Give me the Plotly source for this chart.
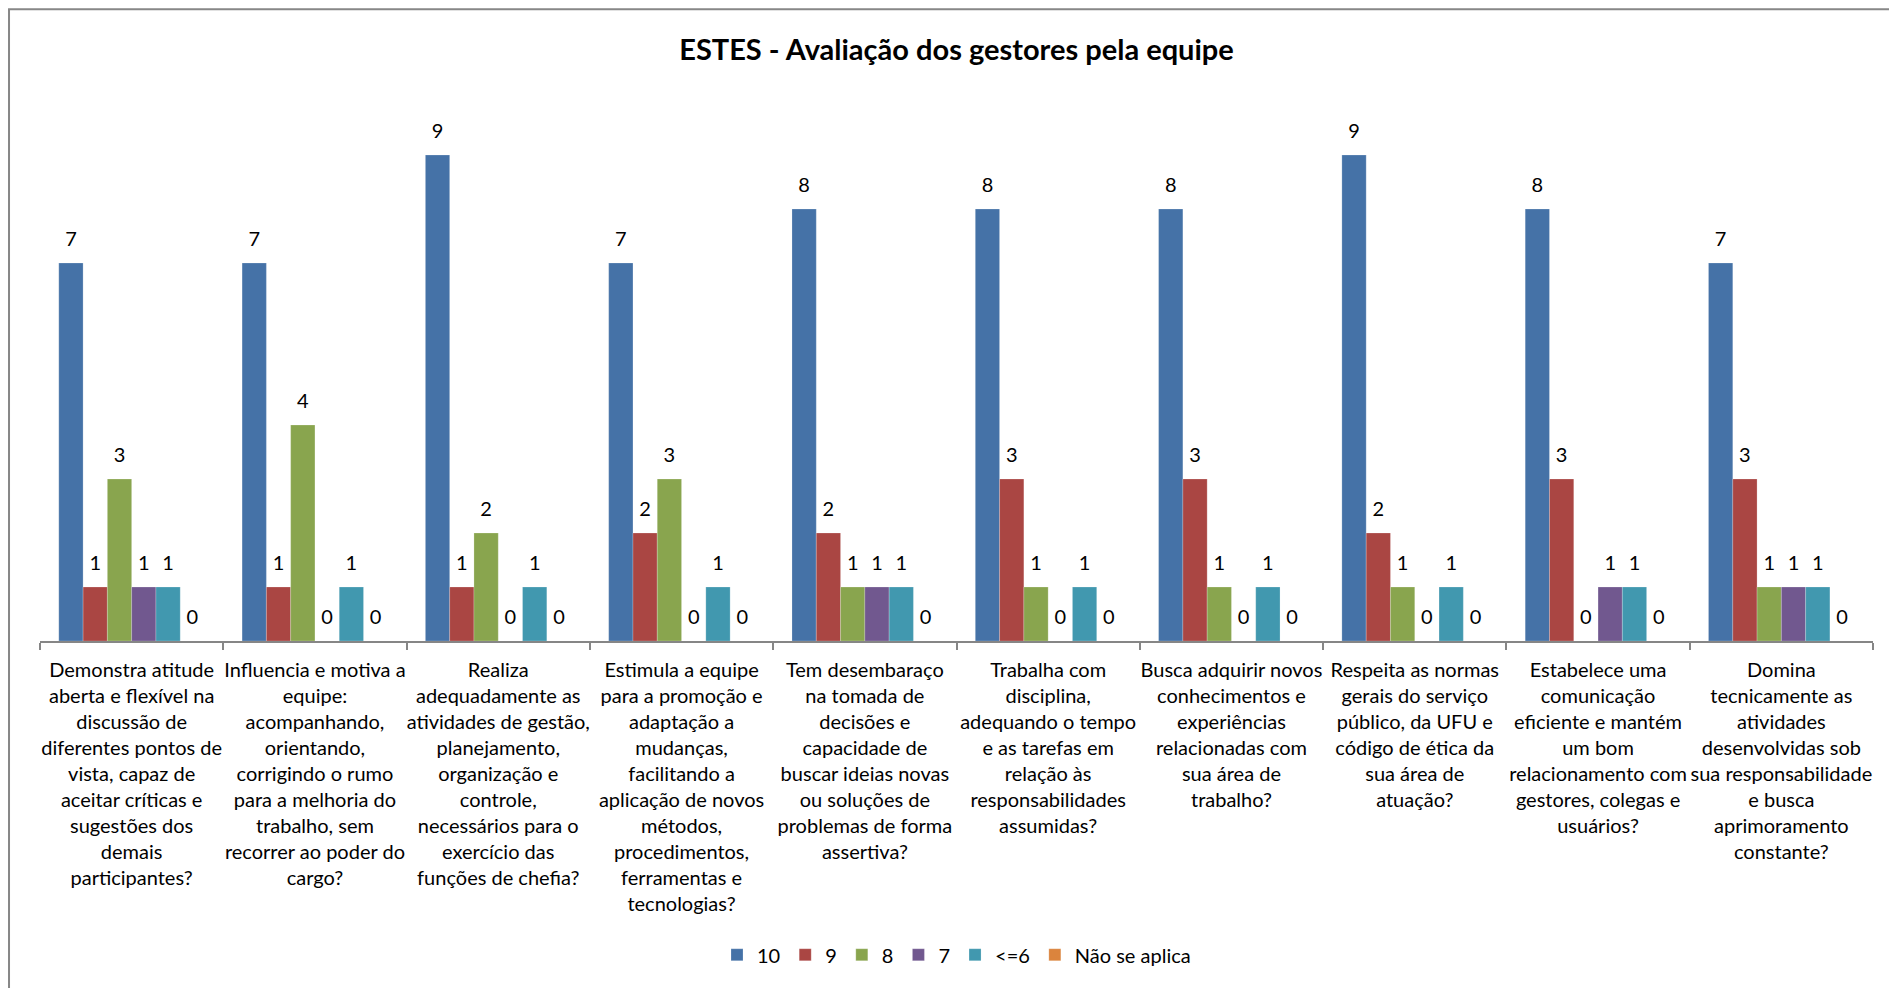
import plotly.graph_objects as go

categories = [
    "Demonstra atitude<br>aberta e flexível na<br>discussão de<br>diferentes pontos de<br>vista, capaz de<br>aceitar críticas e<br>sugestões dos<br>demais<br>participantes?",
    "Influencia e motiva a<br>equipe:<br>acompanhando,<br>orientando,<br>corrigindo o rumo<br>para a melhoria do<br>trabalho, sem<br>recorrer ao poder do<br>cargo?",
    "Realiza<br>adequadamente as<br>atividades de gestão,<br>planejamento,<br>organização e<br>controle,<br>necessários para o<br>exercício das<br>funções de chefia?",
    "Estimula a equipe<br>para a promoção e<br>adaptação a<br>mudanças,<br>facilitando a<br>aplicação de novos<br>métodos,<br>procedimentos,<br>ferramentas e<br>tecnologias?",
    "Tem desembaraço<br>na tomada de<br>decisões e<br>capacidade de<br>buscar ideias novas<br>ou soluções de<br>problemas de forma<br>assertiva?",
    "Trabalha com<br>disciplina,<br>adequando o tempo<br>e as tarefas em<br>relação às<br>responsabilidades<br>assumidas?",
    "Busca adquirir novos<br>conhecimentos e<br>experiências<br>relacionadas com<br>sua área de<br>trabalho?",
    "Respeita as normas<br>gerais do serviço<br>público, da UFU e<br>código de ética da<br>sua área de<br>atuação?",
    "Estabelece uma<br>comunicação<br>eficiente e mantém<br>um bom<br>relacionamento com<br>gestores, colegas e<br>usuários?",
    "Domina<br>tecnicamente as<br>atividades<br>desenvolvidas sob<br>sua responsabilidade<br>e busca<br>aprimoramento<br>constante?",
]

series_names = ["10", "9", "8", "7", "<=6", "Não se aplica"]
values_10 = [7, 7, 9, 7, 8, 8, 8, 9, 8, 7]
values_9 = [1, 1, 1, 2, 2, 3, 3, 2, 3, 3]
values_8 = [3, 4, 2, 3, 1, 1, 1, 1, 0, 1]
values_7 = [1, 0, 0, 0, 1, 0, 0, 0, 1, 1]
values_le6 = [1, 1, 1, 1, 1, 1, 1, 1, 1, 1]
values_na = [0, 0, 0, 0, 0, 0, 0, 0, 0, 0]
series_values = [values_10, values_9, values_8, values_7, values_le6, values_na]
colors = ["#4572A7", "#AA4643", "#89A54E", "#71588F", "#4198AF", "#DB843D"]

FONT = "Lato"

fig = go.Figure()
for name, vals, col in zip(series_names, series_values, colors):
    fig.add_trace(go.Bar(
        x=categories, y=vals, name=name,
        marker=dict(color=col, line=dict(color="rgba(255,255,255,0.35)", width=0.6)),
        offsetgroup=name, hoverinfo="skip",
    ))
for name, vals in zip(series_names, series_values):
    fig.add_trace(go.Scatter(
        x=categories, y=vals, mode="markers+text", text=[str(v) for v in vals],
        textposition="top center", orientation="v",
        textfont=dict(family=FONT, size=20, color="#000000"),
        marker=dict(size=17, color="rgba(0,0,0,0)"),
        offsetgroup=name, showlegend=False, hoverinfo="skip", cliponaxis=False,
    ))

fig.update_layout(
    width=1897, height=988,
    paper_bgcolor="white", plot_bgcolor="white",
    barmode="group", bargap=0.205, bargroupgap=0,
    scattermode="group", scattergap=0.205,
    margin=dict(l=32, r=32, t=93, b=355),
    font=dict(family=FONT, size=20, color="#000000"),
    title=dict(text="<b>ESTES - Avaliação dos gestores pela equipe</b>",
               x=0.5, xref="paper", xanchor="center",
               y=1 - 42 / 988, yanchor="middle",
               font=dict(family=FONT, size=29, color="#000000")),
    xaxis=dict(
        type="category", categoryorder="array", categoryarray=categories,
        range=[-0.5, len(categories) - 0.5],
        showline=True, linecolor="#868686", linewidth=1.5,
        ticks="outside", tickson="boundaries", ticklen=7, tickcolor="#868686", tickwidth=1.5,
        tickangle=0, tickfont=dict(family=FONT, size=20, color="#000000"),
        ticklabelstandoff=10,
        showgrid=False, zeroline=False,
    ),
    yaxis=dict(range=[0, 10], showgrid=False, zeroline=False, showticklabels=False,
               showline=False, ticks=""),
    legend=dict(orientation="h", x=0.5, xanchor="center", y=-0.581, yanchor="middle",
                font=dict(family=FONT, size=20, color="#000000"),
                itemwidth=30, traceorder="normal"),
    shapes=[dict(type="rect", xref="paper", yref="paper",
                 x0=-0.0169, x1=1.05, y0=-0.8, y1=1.170,
                 line=dict(color="#878787", width=2), fillcolor="rgba(0,0,0,0)", layer="below")],
)

fig.write_html("out.html")
